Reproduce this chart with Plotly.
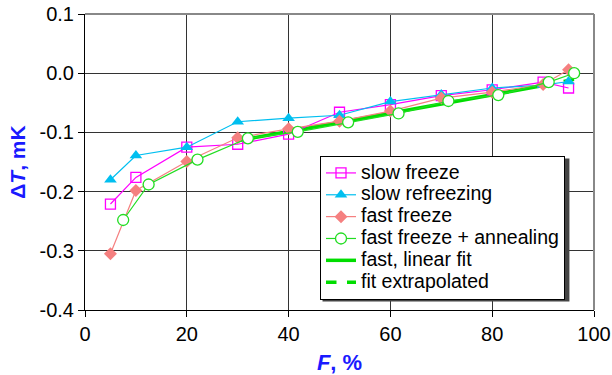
import plotly.graph_objects as go

# ---- data ----
sf_x = [5, 10, 20, 30, 40, 50, 60, 70, 80, 90, 95]
sf_y = [-0.221, -0.176, -0.125, -0.120, -0.103, -0.066, -0.053, -0.038, -0.028, -0.015, -0.025]

sr_x = [5, 10, 20, 30, 40, 50, 60, 70, 80, 90, 95]
sr_y = [-0.180, -0.139, -0.125, -0.082, -0.076, -0.071, -0.048, -0.036, -0.025, -0.020, -0.014]

ff_x = [5, 10, 20, 30, 40, 50, 60, 70, 80, 90, 95]
ff_y = [-0.305, -0.198, -0.149, -0.109, -0.094, -0.081, -0.064, -0.042, -0.032, -0.019, 0.006]

fa_x = [7.5, 12.5, 22.1, 32.0, 41.8, 51.7, 61.6, 71.4, 81.2, 91.1, 96.1]
fa_y = [-0.248, -0.188, -0.146, -0.110, -0.099, -0.083, -0.068, -0.047, -0.037, -0.015, 0.000]

fit_x = [30, 90]
fit_y = [-0.114, -0.021]
ext_x = [90, 98]
ext_y = [-0.021, -0.007]

x_ticks = [0, 20, 40, 60, 80, 100]
y_ticks = [0.1, 0.0, -0.1, -0.2, -0.3, -0.4]
y_ticklabels = ["0.1", "0.0", "-0.1", "-0.2", "-0.3", "-0.4"]

MAGENTA = "#ff00ff"
SKY = "#00bff0"
SALMON = "#f58080"
GREEN = "#22dd22"
FITGREEN = "#00dd00"

# plot-area geometry (pixels) used for layout helpers
W, H = 612, 375
ML, MR, MT, MB = 85, 18, 14, 65
PW, PH = W - ML - MR, H - MT - MB

def px_x(p):
    return (p - ML) / PW

def px_y(p):
    return (H - MB - p) / PH

LEG_TEXT = 19.5   # displayed legend text size
LEG_FS = 14.5     # legend font size (sets entry spacing)

def lab(s):
    return '<span style="font-size:%gpx">%s</span>' % (LEG_TEXT, s)

fig = go.Figure()

fig.add_trace(go.Scatter(x=fit_x, y=fit_y, mode="lines", name=lab("fast, linear fit"),
                         line=dict(color=FITGREEN, width=3.5), legendrank=5))
fig.add_trace(go.Scatter(x=ext_x, y=ext_y, mode="lines", name=lab("fit extrapolated"),
                         line=dict(color=FITGREEN, width=3.5, dash="dash"), legendrank=6))

fig.add_trace(go.Scatter(x=sf_x, y=sf_y, mode="lines+markers", name=lab("slow freeze"),
                         line=dict(color=MAGENTA, width=1.2),
                         marker=dict(symbol="square-open", size=10, color=MAGENTA, line=dict(width=1.3)),
                         legendrank=1))
fig.add_trace(go.Scatter(x=sr_x, y=sr_y, mode="lines+markers", name=lab("slow refreezing"),
                         line=dict(color=SKY, width=1.2),
                         marker=dict(symbol="triangle-up", size=11, color=SKY),
                         legendrank=2))
fig.add_trace(go.Scatter(x=ff_x, y=ff_y, mode="lines+markers", name=lab("fast freeze"),
                         line=dict(color=SALMON, width=1.2),
                         marker=dict(symbol="diamond", size=10, color=SALMON),
                         legendrank=3))
fig.add_trace(go.Scatter(x=fa_x, y=fa_y, mode="lines+markers", name=lab("fast freeze + annealing"),
                         line=dict(color=GREEN, width=1.2),
                         marker=dict(symbol="circle", size=11, color="white", line=dict(color=GREEN, width=1.3)),
                         legendrank=4))

# legend box (pixels) and its drop shadow
LG_L, LG_T = 320, 156
LG_R = LG_L + 43 + 10.15 * LEG_TEXT + 6
LG_B = LG_T + 6 * (LEG_FS * 1.3 + 3) + 12
SH = 2.5

fig.update_layout(
    width=W, height=H,
    margin=dict(l=ML, r=MR, t=MT, b=MB, autoexpand=False),
    paper_bgcolor="white", plot_bgcolor="white",
    font=dict(family="Liberation Sans, Arial, sans-serif", color="black", size=20),
    showlegend=True,
    legend=dict(x=px_x(LG_L), y=px_y(LG_T), xanchor="left", yanchor="top",
                bgcolor="white", bordercolor="black", borderwidth=1,
                font=dict(size=LEG_FS, color="black"), itemwidth=30,
                traceorder="normal"),
    shapes=[
        dict(type="rect", xref="paper", yref="paper",
             x0=px_x(LG_L + SH), x1=px_x(LG_R + SH), y0=px_y(LG_B + SH), y1=px_y(LG_T + SH),
             fillcolor="#444444", line=dict(width=0), layer="above"),
        dict(type="line", xref="paper", yref="paper", x0=0, x1=1, y0=1, y1=1,
             line=dict(color="#888888", width=2), layer="above"),
        dict(type="line", xref="paper", yref="paper", x0=1, x1=1, y0=0, y1=1,
             line=dict(color="#888888", width=2), layer="above"),
    ],
)

fig.update_xaxes(range=[0, 100], tickvals=x_ticks, ticks="outside", ticklen=6, tickcolor="black",
                 showline=True, linecolor="black", linewidth=1, automargin=False,
                 showgrid=True, gridcolor="#333333", gridwidth=1, zeroline=False,
                 tickfont=dict(size=20),
                 title=dict(text="<b><i>F</i>, %</b>", font=dict(size=22, color="#1a1aff"), standoff=10))
fig.update_yaxes(range=[-0.4, 0.1], tickvals=y_ticks, ticktext=y_ticklabels, ticks="outside", ticklen=6,
                 tickcolor="black", automargin=False,
                 showline=True, linecolor="black", linewidth=1,
                 showgrid=True, gridcolor="#333333", gridwidth=1, zeroline=False,
                 tickfont=dict(size=20),
                 title=dict(text="<b>Δ<i>T</i>, mK</b>", font=dict(size=21, color="#1a1aff"), standoff=8))

fig.write_html("out.html")
